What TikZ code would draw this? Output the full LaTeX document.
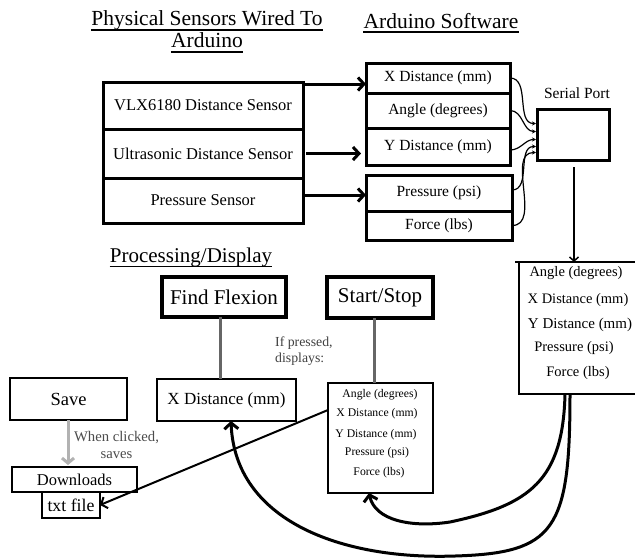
\documentclass[tikz,border=0pt]{standalone}
\usepackage{fontspec}
\setmainfont{Liberation Serif}
\usetikzlibrary{arrows.meta,calc}
\newcommand\fsz[1]{\fontsize{#1}{#1}\selectfont}
\begin{document}
\begin{tikzpicture}[x=1pt,y=-1pt,
  bx/.style={draw, line width=#1, inner sep=0pt, outer sep=0pt},
  ul/.style={line width=1.3pt},
  bigarr/.style={line width=3pt, -{Straight Barb[length=6pt,width=13pt]}},
  thinarr/.style={line width=1.2pt, -{Stealth[length=4pt,width=4pt]}},
  grayln/.style={line width=3pt, draw=black!60},
  curvy/.style={line width=3pt, -{Straight Barb[length=6pt,width=14pt]}}
]
\clip (0,0) rectangle (635,558);
\fill[white] (0,0) rectangle (635,558);

% titles
\node[font=\fsz{21.5}, anchor=base, inner sep=0] (t1a) at (207,25) {Physical Sensors Wired To};
\node[font=\fsz{21.5}, anchor=base, inner sep=0] (t1b) at (207,47) {Arduino};
\node[font=\fsz{21.5}, anchor=base, inner sep=0] (t2) at (441,28) {Arduino Software};
\node[font=\fsz{21}, anchor=base, inner sep=0] (t3) at (191,262) {Processing/Display};
\draw[ul] ($(t1a.base west)+(0,5)$) -- ($(t1a.base east)+(0,5)$);
\draw[ul] ($(t1b.base west)+(0,5)$) -- ($(t1b.base east)+(0,5)$);
\draw[ul] ($(t2.base west)+(0,4)$) -- ($(t2.base east)+(0,4)$);
\draw[ul] ($(t3.base west)+(0,4.5)$) -- ($(t3.base east)+(0,4.5)$);

% sensors
\node[bx=3pt, minimum width=200pt, minimum height=47pt, font=\fsz{16.5}] (vlx) at (203,105.5) {VLX6180 Distance Sensor};
\node[bx=3pt, minimum width=200pt, minimum height=49pt, font=\fsz{16.5}] (ult) at (203,153.5) {Ultrasonic Distance Sensor};
\node[bx=3pt, minimum width=200pt, minimum height=45pt, font=\fsz{16.5}] (psn) at (203,200.5) {Pressure Sensor};

% software
\node[bx=3pt, minimum width=144pt, minimum height=30pt, font=\fsz{15.5}] (xs) at (438,78) {X Distance (mm)};
\node[bx=3pt, minimum width=144pt, minimum height=35pt, font=\fsz{15.5}] (an) at (438,110.5) {Angle (degrees)};
\node[bx=3pt, minimum width=144pt, minimum height=37pt, font=\fsz{15.5}] (ys) at (438,146.5) {Y Distance (mm)};
\node[bx=3pt, minimum width=146pt, minimum height=36pt, font=\fsz{15.5}] (pr) at (439,193) {Pressure (psi)};
\node[bx=3pt, minimum width=146pt, minimum height=29pt, font=\fsz{15.5}] (fo) at (439,225.5) {Force (lbs)};

\draw[bigarr] (vlx.east |- 0,84) -- (xs.west |- 0,84);
\draw[bigarr] ($(ult.east)+(3,0)$) -- ($(ys.west |- ult.east)+(-5,0)$);
\draw[bigarr] (psn.east |- 0,195) -- (pr.west |- 0,195);

% serial port
\node[font=\fsz{15.5}] (spl) at (577,93) {Serial Port};
\node[bx=3pt, minimum width=72pt, minimum height=51pt] (sp) at (573,134.5) {};
\draw[thinarr] (xs.east) to[out=0,in=180] ($(sp.west)+(-1,-11)$);
\draw[thinarr] (an.east) to[out=0,in=180] ($(sp.west)+(-1,-3)$);
\draw[thinarr] (ys.east |- 0,150) to[out=0,in=180] ($(sp.west)+(-1,5)$);
\draw[thinarr] (pr.east |- 0,190) to[out=0,in=180] ($(sp.west)+(-1,12)$);
\draw[thinarr] (fo.east) to[out=0,in=180] ($(sp.west)+(-1,18)$);

% right display
\node[bx=2.5pt, minimum width=122pt, minimum height=132pt] (disp) at (580,328) {};
\draw[line width=2.5pt] (disp.north west) -- ++(-4,0);
\draw[line width=1.5pt, -{Straight Barb[length=4pt,width=9pt]}] (sp.south -| 574,0) ++(0,7) coordinate (spo) (spo) -- (disp.north -| 574,0);
\node[font=\fsz{14.5}] (r1) at (576,273) {Angle (degrees)};
\node[font=\fsz{14.5}] (r2) at (578,300) {X Distance (mm)};
\node[font=\fsz{15}] (r3) at (580,325) {Y Distance (mm)};
\node[font=\fsz{14.5}] (r4) at (574,348) {Pressure (psi)};
\node[font=\fsz{14.5}] (r5) at (578,373) {Force (lbs)};

% processing
\node[bx=4pt, minimum width=124pt, minimum height=40pt, font=\fsz{21}] (ff) at (224,297) {Find Flexion};
\node[bx=4pt, minimum width=106pt, minimum height=41pt, font=\fsz{21}] (ss) at (380,297.5) {Start/Stop};
\node[bx=2pt, minimum width=139pt, minimum height=42pt, font=\fsz{17}] (xd) at (226.5,400) {X Distance (mm)};
\node[bx=2.5pt, minimum width=105pt, minimum height=110pt] (d2) at (380.5,438) {};
\node[font=\fsz{11.7}] (d2a) at (380,395) {Angle (degrees)};
\node[font=\fsz{11.7}] (d2b) at (377,414) {X Distance (mm)};
\node[font=\fsz{11.7}] (d2c) at (376,435) {Y Distance (mm)};
\node[font=\fsz{11.7}] (d2d) at (377,453) {Pressure (psi)};
\node[font=\fsz{11.7}] (d2e) at (379,473) {Force (lbs)};
\draw[grayln] (ff.south -| 220,0) -- (xd.north -| 220,0);
\draw[grayln] (ss.south -| 374,0) -- (d2.north -| 374,0);
\node[font=\fontsize{13.8}{16}\selectfont, text=black!75, align=left, anchor=west, inner sep=0] (ifp) at (275,351) {If pressed,\\displays:};

% save
\node[bx=2.5pt, minimum width=117pt, minimum height=42pt, font=\fsz{18.5}] (sv) at (68.5,399) {Save};
\node[bx=2.5pt, minimum width=125pt, minimum height=25pt, font=\fsz{16.5}] (dl) at (74.5,479.5) {Downloads};
\node[bx=2.5pt, minimum width=58pt, minimum height=26pt, font=\fsz{17.8}] (tf) at (71,505) {txt file};
\draw[line width=3pt, draw=black!30, -{Straight Barb[length=5pt,width=12pt]}] (sv.south -| 68,0) -- ($(dl.north -| 68,0)+(0,-2)$);
\node[font=\fontsize{14.7}{17}\selectfont, text=black!70, align=center] (wc) at (116.5,444.5) {When clicked,\\saves};
\draw[line width=2pt, -{Straight Barb[length=5pt,width=12pt]}] (d2.west |- 0,410) -- (tf.east);

% curves
\draw[curvy] (disp.south -| 565,0) .. controls (563,480) and (530,505) .. (450,522) .. controls (410,528) and (375,520) .. (d2.south -| 369,0);
\draw[curvy] (disp.south -| 570,0) .. controls (570,530) and (555,553) .. (455,556) .. controls (340,560) and (235,520) .. (xd.south -| 231,0);
\end{tikzpicture}
\end{document}
